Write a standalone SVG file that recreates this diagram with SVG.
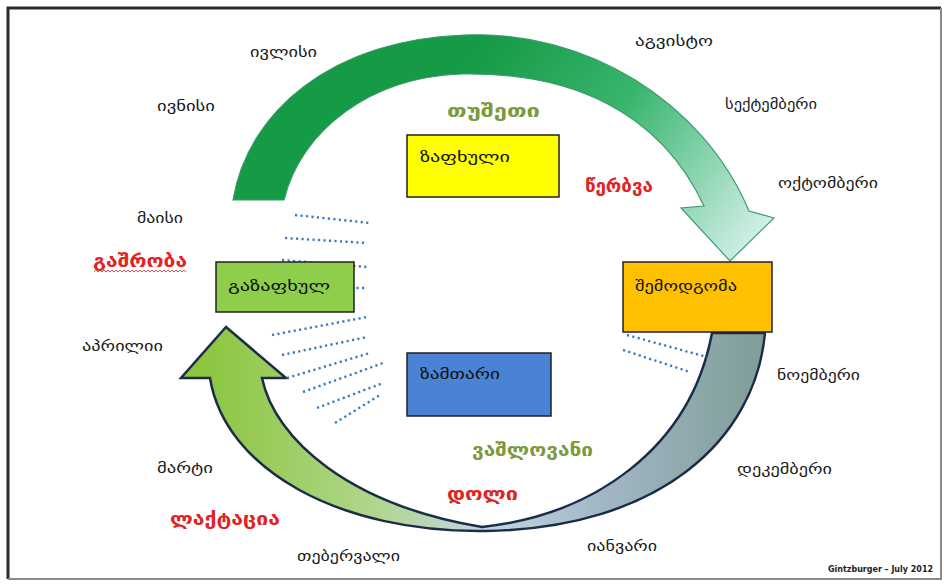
<svg xmlns="http://www.w3.org/2000/svg" width="944" height="585" viewBox="0 0 944 585">
<defs>
<style>
text{font-family:"DejaVu Sans","Noto Sans",sans-serif;}
.m{font-size:15px;fill:#1a1a1a;}
.box{stroke:#222;stroke-width:1.5;}
.bt{font-size:15px;fill:#111;}
.red{font-size:17px;font-weight:bold;fill:#e02323;}
.ol{font-size:17px;font-weight:bold;fill:#7b9a3c;}
.dot{stroke:#3b7bbf;stroke-width:2.4;stroke-dasharray:2.2 3.3;fill:none;}
</style>
<linearGradient id="gTop" gradientUnits="userSpaceOnUse" x1="470" y1="60" x2="735" y2="260">
<stop offset="0" stop-color="#159a45"/>
<stop offset="0.45" stop-color="#38b56e"/>
<stop offset="1" stop-color="#cdeee4"/>
</linearGradient>
<linearGradient id="gBot" gradientUnits="userSpaceOnUse" x1="765" y1="0" x2="205" y2="0">
<stop offset="0" stop-color="#7f9d98"/>
<stop offset="0.3" stop-color="#a3b8c6"/>
<stop offset="0.5" stop-color="#c2d6e4"/>
<stop offset="0.7" stop-color="#b0d68c"/>
<stop offset="1" stop-color="#8cc63f"/>
</linearGradient>
</defs>
<rect x="0" y="0" width="944" height="585" fill="#ffffff"/>
<path d="M8 579 L8 8 L941 8" fill="none" stroke="#2b2b2b" stroke-width="3"/>
<path d="M941 8 L941 579 L8 579" fill="none" stroke="#8a8a8a" stroke-width="2"/>

<g id="connectors">
<path id="arrow-summer-autumn" d="M233 200 C248 112 330 40 465 35 C585 30 702 100 749 211 L774 218 L730 261 L681 208 L704 206 C660 112 572 72 462 74 C370 77 302 130 284 200 Z" fill="url(#gTop)" stroke="#3a9a6a" stroke-width="1.2"/>
<path id="arrow-autumn-spring" d="M226 327 L286 378 L262 378 C275 440 350 505 482 527 C592 515 690 450 712 333 L765 333 C755 440 660 528 486 531 C340 533 225 470 210 378 L181 378 Z" fill="url(#gBot)" stroke="#1c2c48" stroke-width="2.5" stroke-linejoin="miter"/>
<g id="rays">
<line class="dot" x1="295" y1="215" x2="370" y2="223"/>
<line class="dot" x1="285" y1="238" x2="367" y2="243"/>
<line class="dot" x1="282" y1="260" x2="367" y2="267"/>
<line class="dot" x1="340" y1="288" x2="367" y2="288"/>
<line class="dot" x1="272" y1="335" x2="367" y2="317"/>
<line class="dot" x1="282" y1="355" x2="367" y2="337"/>
<line class="dot" x1="287" y1="378" x2="370" y2="353"/>
<line class="dot" x1="303" y1="392" x2="383" y2="363"/>
<line class="dot" x1="317" y1="408" x2="383" y2="383"/>
<line class="dot" x1="335" y1="423" x2="380" y2="395"/>
<line class="dot" x1="627" y1="335" x2="707" y2="357"/>
<line class="dot" x1="623" y1="350" x2="690" y2="372"/>
</g>
</g>

<g id="summer">
<rect class="box" x="407" y="135" width="152" height="62" fill="#ffff00"/>
<text class="bt" x="420" y="162" textLength="90" lengthAdjust="spacingAndGlyphs">ზაფხული</text>
</g>
<g id="spring">
<rect class="box" x="216" y="262" width="138" height="50" fill="#8fce4a"/>
<text class="bt" x="228" y="291" textLength="102" lengthAdjust="spacingAndGlyphs">გაზაფხულ</text>
</g>
<g id="autumn">
<rect class="box" x="623" y="262" width="149" height="70" fill="#ffc000"/>
<text class="bt" x="635" y="291" textLength="102" lengthAdjust="spacingAndGlyphs">შემოდგომა</text>
</g>
<g id="winter">
<rect class="box" x="407" y="353" width="144" height="63" fill="#4a82d4"/>
<text class="bt" x="420" y="379" textLength="80" lengthAdjust="spacingAndGlyphs">ზამთარი</text>
</g>

<g id="months">
<text class="m" x="250" y="57" textLength="67" lengthAdjust="spacingAndGlyphs">ივლისი</text>
<text class="m" x="157" y="111" textLength="58" lengthAdjust="spacingAndGlyphs">ივნისი</text>
<text class="m" x="137" y="223" textLength="46" lengthAdjust="spacingAndGlyphs">მაისი</text>
<text class="m" x="82" y="351" textLength="81" lengthAdjust="spacingAndGlyphs">აპრილიი</text>
<text class="m" x="157" y="473" textLength="56" lengthAdjust="spacingAndGlyphs">მარტი</text>
<text class="m" x="297" y="561" textLength="103" lengthAdjust="spacingAndGlyphs">თებერვალი</text>
<text class="m" x="587" y="551" textLength="70" lengthAdjust="spacingAndGlyphs">იანვარი</text>
<text class="m" x="737" y="474" textLength="95" lengthAdjust="spacingAndGlyphs">დეკემბერი</text>
<text class="m" x="777" y="380" textLength="83" lengthAdjust="spacingAndGlyphs">ნოემბერი</text>
<text class="m" x="778" y="188" textLength="100" lengthAdjust="spacingAndGlyphs">ოქტომბერი</text>
<text class="m" x="725" y="109" textLength="92" lengthAdjust="spacingAndGlyphs">სექტემბერი</text>
<text class="m" x="635" y="46" textLength="78" lengthAdjust="spacingAndGlyphs">აგვისტო</text>
</g>

<g id="places">
<text class="ol" x="447" y="117" textLength="93" lengthAdjust="spacingAndGlyphs">თუშეთი</text>
<text class="ol" x="472" y="456" textLength="121" lengthAdjust="spacingAndGlyphs">ვაშლოვანი</text>
</g>

<g id="activities">
<text class="red" x="93" y="267" textLength="94" lengthAdjust="spacingAndGlyphs">გაშრობა</text>
<path d="M94 272 l2 -2 l2 2 l2 -2 l2 2 l2 -2 l2 2 l2 -2 l2 2 l2 -2 l2 2 l2 -2 l2 2 l2 -2 l2 2 l2 -2 l2 2 l2 -2 l2 2 l2 -2 l2 2 l2 -2 l2 2 l2 -2 l2 2 l2 -2 l2 2 l2 -2 l2 2 l2 -2 l2 2 l2 -2 l2 2 l2 -2 l2 2 l2 -2 l2 2 l2 -2 l2 2 l2 -2 l2 2 l2 -2 l2 2 l2 -2 l2 2 l2 -2 l2 2" fill="none" stroke="#e02323" stroke-width="0.8"/>
<text class="red" x="585" y="192" textLength="68" lengthAdjust="spacingAndGlyphs">წერბვა</text>
<text class="red" x="447" y="500" textLength="71" lengthAdjust="spacingAndGlyphs">დოლი</text>
<text class="red" x="170" y="525" textLength="110" lengthAdjust="spacingAndGlyphs">ლაქტაცია</text>
</g>

<text x="828" y="572" font-size="8" font-weight="bold" fill="#222" textLength="105" lengthAdjust="spacingAndGlyphs">Gintzburger – July 2012</text>
</svg>
